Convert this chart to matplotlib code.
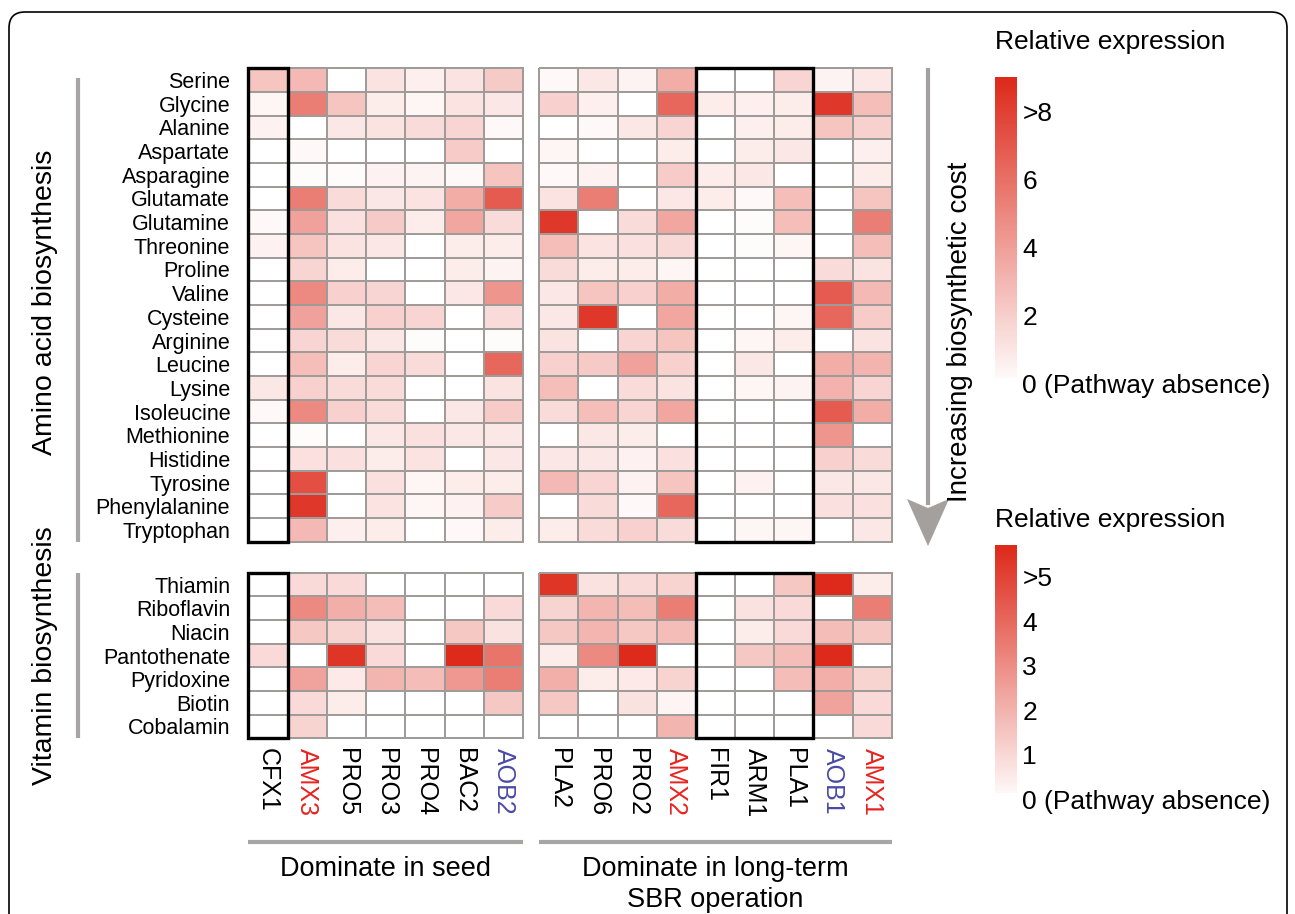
import numpy as np
import matplotlib
matplotlib.use('Agg')
import matplotlib.pyplot as plt
from matplotlib.colors import LinearSegmentedColormap
from matplotlib.patches import Rectangle, FancyBboxPatch, Polygon

plt.rcParams['font.family'] = ['Liberation Sans', 'DejaVu Sans']

# ---- data ----
amino_acids = ['Serine', 'Glycine', 'Alanine', 'Aspartate', 'Asparagine', 'Glutamate',
               'Glutamine', 'Threonine', 'Proline', 'Valine', 'Cysteine', 'Arginine',
               'Leucine', 'Lysine', 'Isoleucine', 'Methionine', 'Histidine', 'Tyrosine',
               'Phenylalanine', 'Tryptophan']
vitamins = ['Thiamin', 'Riboflavin', 'Niacin', 'Pantothenate', 'Pyridoxine', 'Biotin', 'Cobalamin']

seed_strains = ['CFX1', 'AMX3', 'PRO5', 'PRO3', 'PRO4', 'BAC2', 'AOB2']
sbr_strains = ['PLA2', 'PRO6', 'PRO2', 'AMX2', 'FIR1', 'ARM1', 'PLA1', 'AOB1', 'AMX1']
strain_groups = ['Dominate in seed', 'Dominate in long-term\nSBR operation']

# relative expression, amino acid pathways (rows = amino_acids)
amino_seed = [
    [2.5, 3.0, 0.0, 1.2, 0.7, 1.2, 2.3],
    [0.4, 5.5, 2.5, 0.8, 0.4, 1.2, 1.0],
    [0.6, 0.0, 1.0, 1.2, 1.5, 1.8, 0.3],
    [0.0, 0.3, 0.0, 0.0, 0.0, 2.2, 0.0],
    [0.0, 0.2, 0.2, 0.6, 0.5, 0.3, 2.5],
    [0.0, 5.5, 1.5, 1.0, 1.2, 3.5, 7.0],
    [0.3, 4.0, 1.3, 2.3, 0.8, 3.8, 1.5],
    [0.6, 2.5, 1.2, 1.0, 0.0, 0.8, 0.8],
    [0.0, 1.8, 0.8, 0.0, 0.0, 0.8, 0.5],
    [0.0, 5.0, 2.0, 1.8, 0.0, 1.0, 4.5],
    [0.0, 4.0, 1.0, 2.0, 1.8, 0.0, 1.5],
    [0.0, 1.8, 1.5, 1.0, 0.2, 0.0, 0.2],
    [0.0, 2.8, 0.8, 1.8, 1.5, 0.0, 6.5],
    [1.0, 2.0, 1.5, 1.5, 0.0, 0.0, 1.2],
    [0.3, 5.0, 2.0, 1.5, 0.0, 1.0, 2.2],
    [0.0, 0.2, 0.0, 1.0, 1.3, 1.0, 1.0],
    [0.0, 1.3, 1.3, 0.8, 1.2, 0.0, 1.0],
    [0.0, 7.5, 0.0, 1.3, 0.4, 0.8, 0.8],
    [0.0, 8.5, 0.0, 1.2, 0.4, 0.6, 2.2],
    [0.0, 3.0, 0.7, 0.8, 0.0, 0.3, 0.8],
]
amino_sbr = [
    [0.3, 1.0, 0.5, 3.5, 0.0, 0.0, 1.8, 0.5, 1.0],
    [2.0, 0.7, 0.0, 6.5, 0.8, 0.7, 0.8, 8.5, 2.8],
    [0.0, 0.3, 1.0, 1.8, 0.0, 0.7, 0.8, 2.5, 2.0],
    [0.4, 0.0, 0.0, 0.8, 0.0, 0.8, 1.0, 0.0, 0.7],
    [0.3, 0.6, 0.0, 2.2, 0.8, 1.0, 0.0, 0.0, 0.8],
    [1.2, 5.5, 0.0, 1.0, 0.8, 0.3, 2.8, 0.0, 2.5],
    [8.5, 0.0, 1.5, 3.8, 0.0, 0.2, 2.8, 0.0, 5.5],
    [2.8, 1.2, 1.3, 1.6, 0.0, 0.2, 0.4, 0.0, 2.8],
    [1.5, 0.8, 0.8, 0.4, 0.0, 0.0, 0.0, 1.5, 1.2],
    [1.0, 2.5, 2.0, 3.5, 0.0, 0.0, 0.0, 7.0, 3.0],
    [1.0, 8.5, 0.0, 3.8, 0.0, 0.0, 0.4, 6.5, 2.2],
    [1.2, 0.0, 1.8, 2.5, 0.0, 0.4, 0.8, 0.0, 1.2],
    [2.0, 2.3, 4.0, 2.0, 0.0, 1.0, 0.0, 3.5, 3.2],
    [2.8, 0.0, 1.5, 1.2, 0.0, 0.4, 0.5, 3.3, 1.8],
    [1.5, 2.8, 1.8, 3.8, 0.0, 0.0, 0.0, 7.0, 3.5],
    [0.0, 1.0, 0.8, 0.0, 0.0, 0.0, 0.0, 4.5, 0.0],
    [1.0, 1.0, 0.6, 1.3, 0.0, 0.0, 0.0, 2.0, 1.5],
    [3.0, 1.8, 0.6, 2.5, 0.0, 0.6, 0.0, 1.0, 1.0],
    [0.0, 1.5, 0.3, 6.5, 0.0, 0.0, 0.0, 1.3, 1.3],
    [0.8, 1.5, 2.0, 1.5, 0.0, 0.4, 0.4, 0.0, 1.0],
]
# relative expression, vitamin pathways (rows = vitamins)
vitamin_seed = [
    [0.0, 1.0, 1.0, 0.0, 0.0, 0.0, 0.0],
    [0.0, 3.2, 2.2, 1.8, 0.0, 0.0, 1.0],
    [0.0, 1.5, 1.2, 0.8, 0.0, 1.5, 0.8],
    [1.0, 0.0, 5.5, 1.0, 0.0, 6.0, 3.8],
    [0.0, 2.5, 0.6, 2.0, 1.8, 2.8, 3.5],
    [0.0, 1.0, 0.5, 0.0, 0.0, 0.0, 1.5],
    [0.0, 1.2, 0.0, 0.0, 0.0, 0.0, 0.0],
]
vitamin_sbr = [
    [5.5, 0.8, 1.0, 1.2, 0.0, 0.0, 1.5, 6.0, 0.5],
    [1.2, 2.0, 1.8, 3.5, 0.0, 0.8, 1.0, 0.0, 3.5],
    [1.5, 2.0, 1.5, 1.8, 0.0, 0.5, 1.0, 1.8, 1.5],
    [0.5, 3.2, 6.0, 0.0, 0.0, 1.5, 1.8, 5.8, 0.0],
    [2.2, 0.5, 0.6, 1.2, 0.0, 0.0, 1.8, 2.2, 1.2],
    [1.5, 0.0, 0.8, 0.3, 0.0, 0.0, 0.0, 2.5, 1.0],
    [0.0, 0.0, 0.0, 2.0, 0.0, 0.0, 0.0, 0.0, 1.0],
]

amino_ticks = [0, 2, 4, 6, 8]
amino_ticklabels = ['0 (Pathway absence)', '2', '4', '6', '>8']
vitamin_ticks = [0, 1, 2, 3, 4, 5]
vitamin_ticklabels = ['0 (Pathway absence)', '1', '2', '3', '4', '>5']

# ---- style ----
W, H = 1295, 914
cmap = LinearSegmentedColormap.from_list('wr', ['#FFFFFF', '#DD2A1B'])
grid_col = '#9F9B99'
bar_col = '#A8A6A4'
red, blue = '#E8231E', '#4A4AA6'


def label_color(name):
    if name.startswith('AMX'):
        return red
    if name.startswith('AOB'):
        return blue
    return 'black'


fig = plt.figure(figsize=(W / 100, H / 100), dpi=100)

# overlay in pixel coordinates for frame, lines, arrow and free text
ov = fig.add_axes([0, 0, 1, 1])
ov.set_xlim(0, W)
ov.set_ylim(H, 0)
ov.axis('off')


def px_axes(x0, y0, x1, y1):
    return fig.add_axes([x0 / W, 1 - y1 / H, (x1 - x0) / W, (y1 - y0) / H])


def heat(ax, data, vmax, box_cols):
    data = np.array(data)
    nr, nc = data.shape
    mesh = ax.pcolormesh(data, cmap=cmap, vmin=0, vmax=vmax,
                         edgecolors=grid_col, linewidth=1.1)
    mesh.set_clip_on(False)
    ax.set_xlim(0, nc)
    ax.set_ylim(nr, 0)
    for s in ax.spines.values():
        s.set_visible(False)
    ax.tick_params(length=0)
    ax.set_xticks([])
    ax.set_yticks([])
    c0, c1 = box_cols
    ax.add_patch(Rectangle((c0, 0), c1 - c0, nr, fill=False, ec='black',
                           lw=2.4, clip_on=False, zorder=5))


# heatmap blocks
x_seed = (248.3, 523.3)
x_sbr = (539.3, 891.7)
y_amino = (68.3, 541.7)
y_vit = (572.7, 738.3)

ax_as = px_axes(x_seed[0], y_amino[0], x_seed[1], y_amino[1])
ax_ab = px_axes(x_sbr[0], y_amino[0], x_sbr[1], y_amino[1])
ax_vs = px_axes(x_seed[0], y_vit[0], x_seed[1], y_vit[1])
ax_vb = px_axes(x_sbr[0], y_vit[0], x_sbr[1], y_vit[1])

heat(ax_as, amino_seed, 9.1, (0, 1))
heat(ax_ab, amino_sbr, 9.1, (4, 7))
heat(ax_vs, vitamin_seed, 5.8, (0, 1))
heat(ax_vb, vitamin_sbr, 5.8, (4, 7))

for ax, rows in [(ax_as, amino_acids), (ax_vs, vitamins)]:
    ax.set_yticks(np.arange(len(rows)) + 0.5)
    ax.set_yticklabels(rows, fontsize=15.5)
    ax.tick_params(axis='y', pad=13)

for ax, cols in [(ax_vs, seed_strains), (ax_vb, sbr_strains)]:
    ax.set_xticks(np.arange(len(cols)) + 0.5)
    ax.set_xticklabels(cols, rotation=270, fontsize=18, va='top', ha='center')
    ax.tick_params(axis='x', pad=7)
    for t, name in zip(ax.get_xticklabels(), cols):
        t.set_color(label_color(name))

# section labels with gray bars on the left
ov.plot([78, 78], [78, 542], color=bar_col, lw=3, solid_capstyle='butt')
ov.plot([78, 78], [573, 738], color=bar_col, lw=3, solid_capstyle='butt')
ov.text(45, 302, 'Amino acid biosynthesis', rotation=90, fontsize=20.5,
        ha='center', va='center')
ov.text(45, 656, 'Vitamin biosynthesis', rotation=90, fontsize=20.5,
        ha='center', va='center')

# group lines and labels below
ov.plot([x_seed[0], x_seed[1]], [842, 842], color=bar_col, lw=3, solid_capstyle='butt')
ov.plot([x_sbr[0], x_sbr[1]], [842, 842], color=bar_col, lw=3, solid_capstyle='butt')
ov.text(sum(x_seed) / 2, 856, strain_groups[0], fontsize=19.5, ha='center', va='top')
ov.text(sum(x_sbr) / 2, 856, strain_groups[1], fontsize=19.5, ha='center', va='top',
        linespacing=1.25)

# biosynthetic cost arrow
ov.plot([928, 928], [68, 505], color='#A3A09E', lw=3, solid_capstyle='butt')
ov.add_patch(Polygon([(907, 499), (928, 508), (949, 499), (928, 546)],
                     closed=True, fc='#A3A09E', ec='none'))
ov.text(960, 332, 'Increasing biosynthetic cost', rotation=90, fontsize=20,
        ha='center', va='center')

# outer rounded frame
ov.add_patch(FancyBboxPatch((9, 12), 1278, 960, boxstyle='round,pad=0,rounding_size=16',
                            fill=False, ec='black', lw=1.2))


# colour bars
def cbar(y_top, y_bot, lo, hi, ticks, labels, title_y):
    cax = px_axes(995, y_top, 1016, y_bot)
    grad = np.linspace(lo, hi, 256).reshape(-1, 1)
    cax.imshow(grad, cmap=cmap, vmin=0, vmax=hi, origin='lower', aspect='auto',
               extent=[0, 1, lo, hi])
    cax.set_xlim(0, 1)
    cax.set_ylim(lo, hi)
    cax.axis('off')
    for v, lab in zip(ticks, labels):
        cax.text(1.3, v, lab, transform=cax.get_yaxis_transform(), fontsize=19,
                 ha='left', va='center', clip_on=False)
    ov.text(995, title_y, 'Relative expression', fontsize=19, ha='left', va='center')


cbar(77, 378, 0.24, 9.09, amino_ticks, amino_ticklabels, 42)
cbar(545, 793, 0.2, 5.76, vitamin_ticks, vitamin_ticklabels, 520)

fig.savefig('out.png', dpi=100)
